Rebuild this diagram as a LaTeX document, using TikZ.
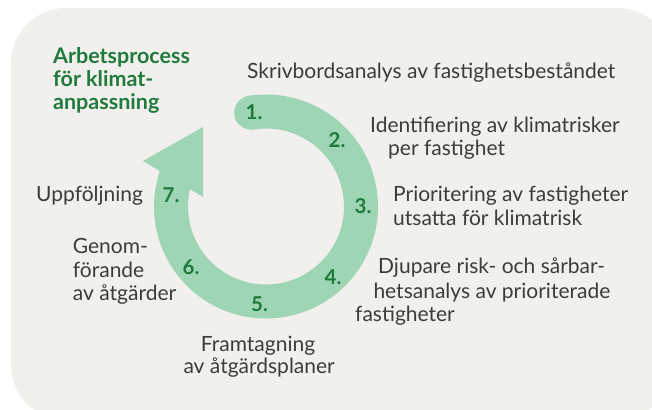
\documentclass[tikz,border=0pt]{standalone}
\usepackage{fontspec}
\setmainfont{Lato}
\definecolor{bgcol}{HTML}{F2F0EC}
\definecolor{ringcol}{HTML}{9DD5B5}
\definecolor{darkgreen}{HTML}{217A3D}
\definecolor{txtcol}{HTML}{3C3C3C}
\begin{document}
\begin{tikzpicture}[x=1pt,y=-1pt,
  body/.style={inner sep=0pt, anchor=base west, text=txtcol, font=\fontsize{21}{22}\selectfont},
  title/.style={inner sep=0pt, anchor=base west, text=darkgreen, font=\fontsize{21.5}{22}\selectfont\bfseries},
  num/.style={inner sep=0pt, anchor=center, text=darkgreen, font=\fontsize{20.5}{21}\selectfont\bfseries}]
\useasboundingbox (0,0) rectangle (652,409);
\clip (0,0) rectangle (652,409);
\fill[white] (0,0) rectangle (652,409);
\fill[bgcol, rounded corners=55pt] (11,8) rectangle (672,420);
% ring
\coordinate (C) at (266,206.5);
\draw[ringcol, line width=34pt] (C) ++(-99:95) arc[start angle=-99, end angle=200, radius=95];
\fill[ringcol] (C) ++(-99:95) circle[radius=17];
\fill[ringcol] (203,127) -- (143,161) -- (203,197) -- cycle;
% numbers
\node[num] (n1) at (254,112) {1.};
\node[num] (n2) at (337,140) {2.};
\node[num] (n3) at (363,206) {3.};
\node[num] (n4) at (333,277) {4.};
\node[num] (n5) at (259.5,304) {5.};
\node[num] (n6) at (191,267) {6.};
\node[num] (n7) at (171,195.5) {7.};
% title
\node[title] (t1) at (53,63.3) {Arbetsprocess};
\node[title] (t2) at (53,86.7) {för klimat-};
\node[title] (t3) at (53,109.3) {anpassning};
% labels
\node[body] (s1) at (247,79) {Skrivbordsanalys av fastighetsbeståndet};
\node[body] (s2a) at (370,132.7) {Identifiering av klimatrisker};
\node[body] (s2b) at (388,155) {per fastighet};
\node[body] (s3a) at (393,201.7) {Prioritering av fastigheter};
\node[body] (s3b) at (393,225) {utsatta för klimatrisk};
\node[body] (s4a) at (378,273.3) {Djupare risk- och sårbar-};
\node[body] (s4b) at (373.3,298.3) {hetsanalys av prioriterade};
\node[body] (s4c) at (355,321) {fastigheter};
\node[body] (s5b) at (200.7,351.7) {Framtagning};
\node[body] (s5a) at (183.3,373.3) {av åtgärdsplaner};
\node[body] (s6a) at (72.7,253.3) {Genom-};
\node[body] (s6b) at (72.7,277.3) {förande};
\node[body] (s6c) at (72.7,300) {av åtgärder};
\node[body] (s7) at (36,201.7) {Uppföljning};
\end{tikzpicture}
\end{document}
